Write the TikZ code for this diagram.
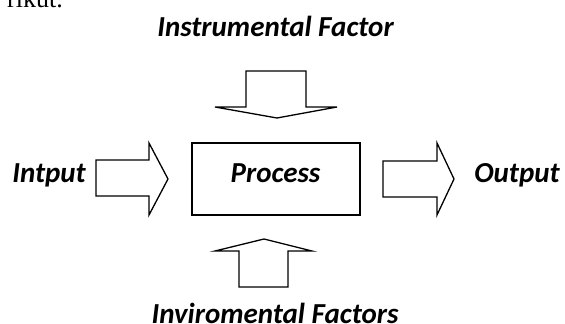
\documentclass[tikz,border=0pt]{standalone}
\usepackage{fontspec}
\setmainfont{Carlito}
\newfontfamily\docserif{Liberation Serif}
\begin{document}
\begin{tikzpicture}[x=1pt,y=-1pt,
  lbl/.style={font=\fontsize{29}{32}\selectfont\bfseries\itshape, inner sep=0pt, anchor=base, text depth=0pt},
  blockarrow/.style={draw=black, line width=1.3pt, fill=white, line join=miter},
  procbox/.style={draw=black, line width=1.3pt, fill=white}]
\useasboundingbox (0,0) rectangle (565,324);
% cropped fragment of the surrounding text
\node[font=\docserif\fontsize{26}{30}\selectfont, inner sep=0pt, anchor=base east, text depth=0pt] (frag) at (63,7) {rikut.};
% labels
\node[lbl] (instr) at (275.5,36) {Instrumental Factor};
\node[lbl] (inp) at (49,182) {Intput};
\node[lbl] (outp) at (517,182) {Output};
\node[lbl] (env) at (275,323) {Inviromental Factors};
% process box
\node[procbox, minimum width=168pt, minimum height=72pt, inner sep=0pt] (proc) at (276,179) {};
\node[lbl] (proctxt) at (275.5,182) {Process};
% top block arrow (down)
\draw[blockarrow] (246,71) -- (306,71) -- (306,107) -- (337,107) -- (277,118) -- (215,107) -- (246,107) -- cycle;
% bottom block arrow (up)
\draw[blockarrow] (239,287) -- (288,287) -- (288,251) -- (312,251) -- (264,239) -- (215,251) -- (239,251) -- cycle;
% input block arrow (right)
\draw[blockarrow] (96,160) -- (149,160) -- (149,143) -- (168,179) -- (149,215) -- (149,196) -- (96,196) -- cycle;
% output block arrow (right)
\draw[blockarrow] (383,161) -- (437,161) -- (437,143) -- (454,179) -- (437,215) -- (437,197) -- (383,197) -- cycle;
\end{tikzpicture}
\end{document}
